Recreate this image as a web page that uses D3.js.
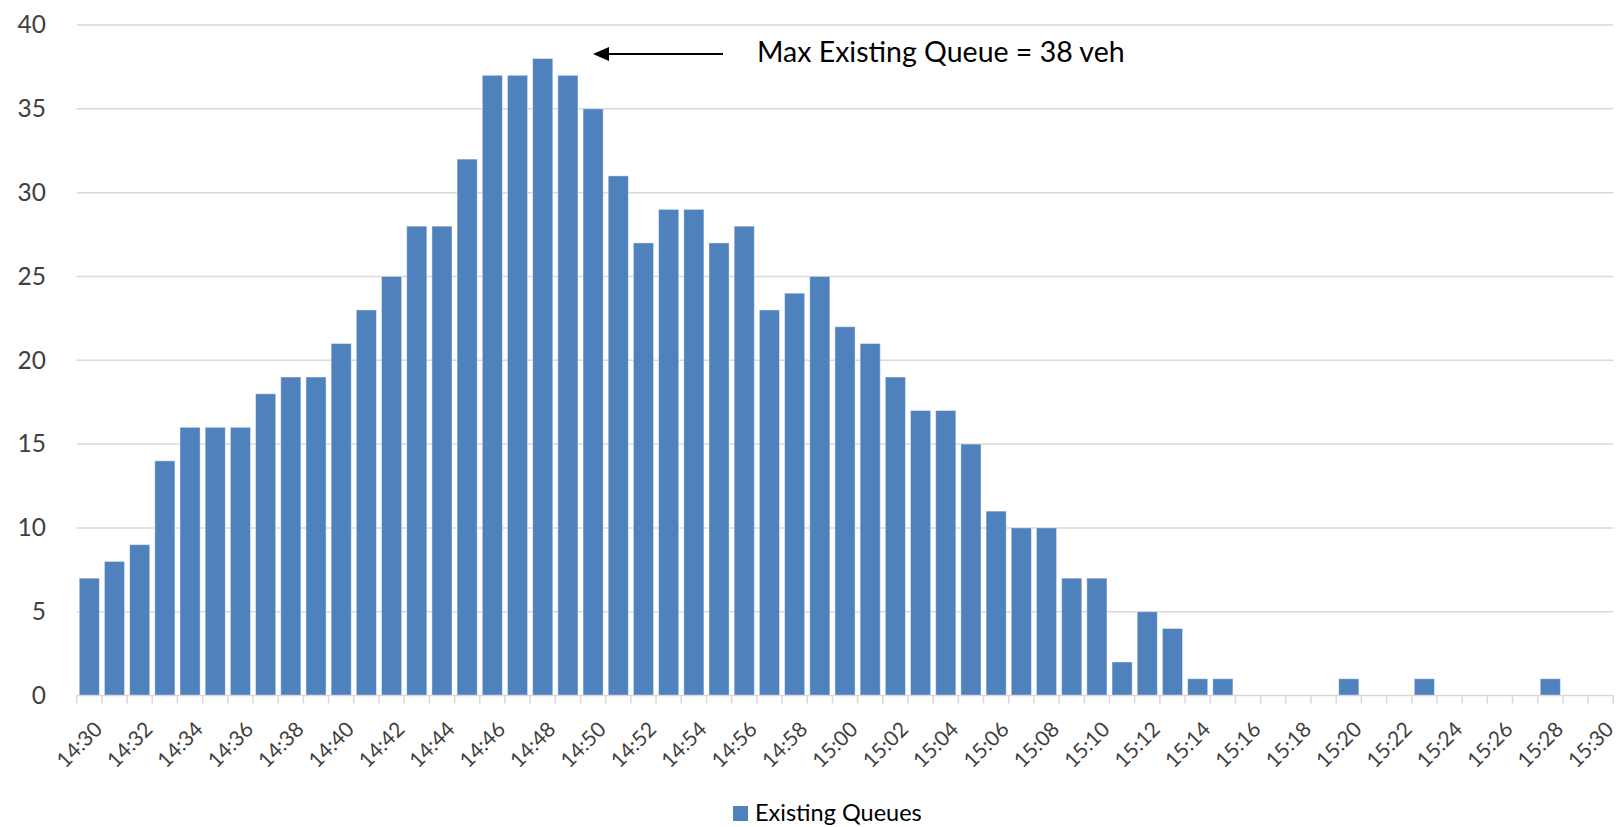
<!DOCTYPE html>
<html>
<head>
<meta charset="utf-8">
<script src="https://cdn.jsdelivr.net/npm/d3@7"></script>
<style>
  html, body { margin: 0; padding: 0; background: #ffffff; }
  svg { display: block; font-family: Lato, "Open Sans", sans-serif; }
</style>
</head>
<body>
<svg id="chart" width="1621" height="827"></svg>
<script>
// Minute-by-minute categories, 14:30 to 15:30
const minutes = [
  "14:30","14:31","14:32","14:33","14:34","14:35","14:36","14:37","14:38","14:39",
  "14:40","14:41","14:42","14:43","14:44","14:45","14:46","14:47","14:48","14:49",
  "14:50","14:51","14:52","14:53","14:54","14:55","14:56","14:57","14:58","14:59",
  "15:00","15:01","15:02","15:03","15:04","15:05","15:06","15:07","15:08","15:09",
  "15:10","15:11","15:12","15:13","15:14","15:15","15:16","15:17","15:18","15:19",
  "15:20","15:21","15:22","15:23","15:24","15:25","15:26","15:27","15:28","15:29",
  "15:30"
];

// Existing queue length (vehicles) per minute
const existingQueues = [
  7, 8, 9, 14, 16, 16, 16, 18, 19, 19,
  21, 23, 25, 28, 28, 32, 37, 37, 38, 37,
  35, 31, 27, 29, 29, 27, 28, 23, 24, 25,
  22, 21, 19, 17, 17, 15, 11, 10, 10, 7,
  7, 2, 5, 4, 1, 1, 0, 0, 0, 0,
  1, 0, 0, 1, 0, 0, 0, 0, 1, 0,
  0
];

// Labelled ticks on the time axis (every two minutes)
const timeTickLabels = [
  "14:30","14:32","14:34","14:36","14:38","14:40","14:42","14:44","14:46","14:48",
  "14:50","14:52","14:54","14:56","14:58","15:00","15:02","15:04","15:06","15:08",
  "15:10","15:12","15:14","15:16","15:18","15:20","15:22","15:24","15:26","15:28",
  "15:30"
];

const yTickValues = [0, 5, 10, 15, 20, 25, 30, 35, 40];
const seriesName = "Existing Queues";
const maxQueue = d3.max(existingQueues);
const maxLabel = `Max Existing Queue = ${maxQueue} veh`;

const svg = d3.select("#chart");
const plotLeft = 76.7, plotRight = 1613.3, plotTop = 25, plotBottom = 695.5;
const barColor = "#4F81BD";
const gridColor = "#d9d9d9";
const labelColor = "#404040";

const x = d3.scaleBand()
  .domain(minutes)
  .range([plotLeft, plotRight])
  .paddingInner(0.2)
  .paddingOuter(0.1);

const y = d3.scaleLinear()
  .domain([0, 40])
  .range([plotBottom, plotTop]);

// Horizontal gridlines
svg.append("g")
  .selectAll("line")
  .data(yTickValues.filter(v => v > 0))
  .join("line")
  .attr("x1", plotLeft).attr("x2", plotRight)
  .attr("y1", d => y(d)).attr("y2", d => y(d))
  .attr("stroke", gridColor)
  .attr("stroke-width", 1.5);

// Y-axis labels
const yAxis = svg.append("g")
  .attr("transform", `translate(46,0)`)
  .call(d3.axisLeft(y).tickValues(yTickValues).tickSize(0).tickPadding(0));
yAxis.select(".domain").remove();
yAxis.selectAll("text")
  .attr("font-family", "Lato, sans-serif")
  .attr("font-size", 24.5)
  .attr("fill", labelColor);

// Bars
svg.append("g")
  .selectAll("rect")
  .data(existingQueues.map((v, i) => ({ t: minutes[i], v })))
  .join("rect")
  .filter(d => d.v > 0)
  .attr("x", d => x(d.t))
  .attr("width", x.bandwidth())
  .attr("y", d => y(d.v))
  .attr("height", d => y(0) - y(d.v))
  .attr("fill", barColor)
  .attr("stroke", "#ffffff")
  .attr("stroke-opacity", 0.45)
  .attr("stroke-width", 1);

// Category axis line with tick marks at band boundaries
const step = x.step();
const boundaries = minutes.map(m => x(m) - (step - x.bandwidth()) / 2).concat([plotRight]);
const xAxisG = svg.append("g");
xAxisG.append("line")
  .attr("x1", plotLeft).attr("x2", plotRight)
  .attr("y1", y(0)).attr("y2", y(0))
  .attr("stroke", gridColor).attr("stroke-width", 1.5);
xAxisG.selectAll("line.tick")
  .data(boundaries)
  .join("line")
  .attr("class", "tick")
  .attr("x1", d => d).attr("x2", d => d)
  .attr("y1", y(0)).attr("y2", y(0) + 8)
  .attr("stroke", gridColor).attr("stroke-width", 1.5);

// Rotated time labels
xAxisG.selectAll("text")
  .data(timeTickLabels)
  .join("text")
  .attr("transform", d => `translate(${x(d) + x.bandwidth() / 2 + 9},${y(0) + 30}) rotate(-45)`)
  .attr("text-anchor", "end")
  .attr("dy", "0.35em")
  .attr("font-size", 21)
  .attr("fill", labelColor)
  .text(d => d);

// Annotation arrow pointing back at the peak
const peakIndex = existingQueues.indexOf(maxQueue);
const peakRight = x(minutes[peakIndex + 1]) + x.bandwidth();
const arrowY = 54;
const tipX = peakRight + 15;
const tailX = 723;
svg.append("line")
  .attr("x1", tailX).attr("x2", tipX + 12)
  .attr("y1", arrowY).attr("y2", arrowY)
  .attr("stroke", "#000")
  .attr("stroke-width", 2);
svg.append("path")
  .attr("d", `M${tipX},${arrowY} L${tipX + 16},${arrowY - 7} L${tipX + 16},${arrowY + 7} Z`)
  .attr("fill", "#000");
svg.append("text")
  .attr("x", 757)
  .attr("y", 62.3)
  .attr("font-size", 28.5)
  .attr("fill", "#000")
  .text(maxLabel);

// Legend
const legend = svg.append("g").attr("transform", "translate(733,806)");
legend.append("rect")
  .attr("width", 15).attr("height", 15)
  .attr("fill", barColor);
legend.append("text")
  .attr("x", 22).attr("y", 15)
  .attr("font-size", 23.5)
  .attr("fill", "#000")
  .text(seriesName);
</script>
</body>
</html>
